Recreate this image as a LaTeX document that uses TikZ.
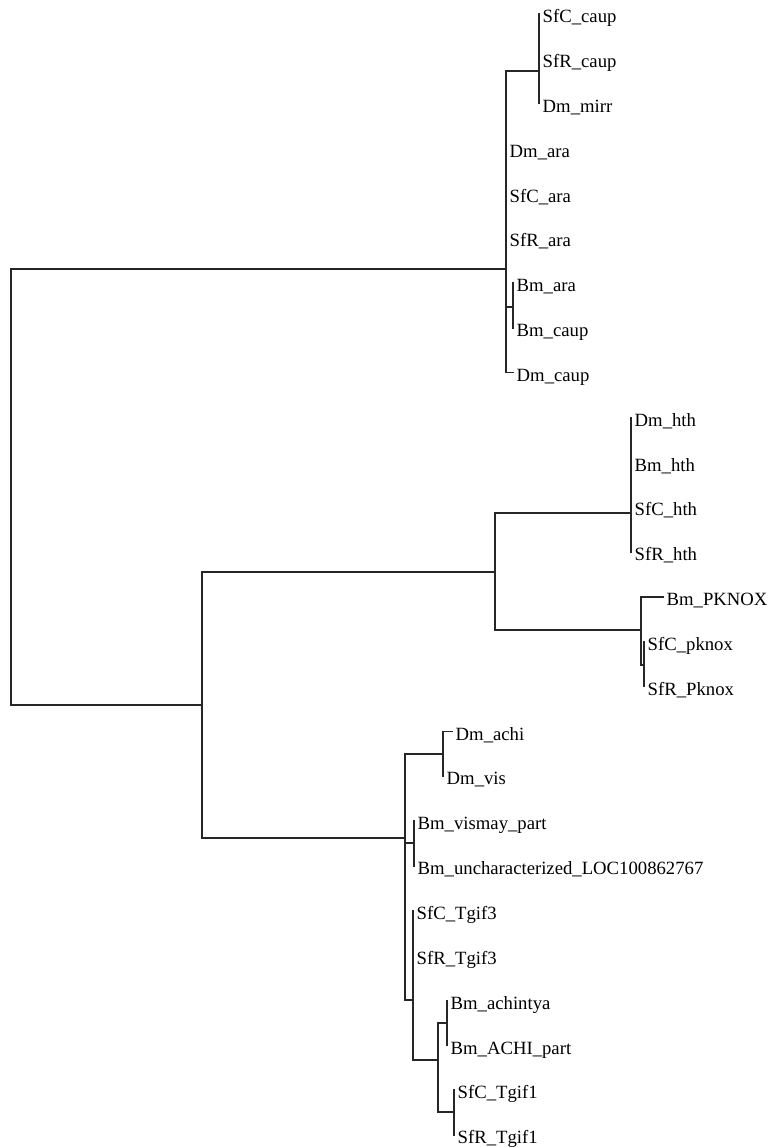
\documentclass[tikz,border=0pt]{standalone}
\usepackage{fontspec}
\setmainfont{Liberation Serif}
\begin{document}
\begin{tikzpicture}[x=1pt,y=-1pt,
  br/.style={line width=1.35pt, line cap=rect, draw=black!85},
  lab/.style={anchor=base west, inner sep=0pt, xshift=3.5pt, yshift=-8.7pt, font=\fontsize{18.7}{20}\selectfont}]
\useasboundingbox (0,0) rectangle (771,1147);
% internal nodes (attach points)
\coordinate (R) at (11,487);
\coordinate (A) at (506,269);
\coordinate (Ncaup) at (539,71);
\coordinate (Nbm) at (513,307);
\coordinate (B) at (202,705);
\coordinate (C) at (495,572);
\coordinate (Nhth) at (631,513);
\coordinate (Npk) at (641,630);
\coordinate (Npk2) at (644,665);
\coordinate (D) at (405,838);
\coordinate (Nachi) at (443,754);
\coordinate (Nvis) at (414,843);
\coordinate (E) at (413,1000);
\coordinate (F) at (438,1060);
\coordinate (Nach) at (447,1023);
\coordinate (Ntg) at (454,1112);
% leaf tips
\coordinate (l0) at (539,14);
\coordinate (l1) at (539,58.84);
\coordinate (l2) at (539,103.68);
\coordinate (l3) at (506,148.52);
\coordinate (l4) at (506,193.36);
\coordinate (l5) at (506,238.2);
\coordinate (l6) at (513,283.04);
\coordinate (l7) at (513,327.88);
\coordinate (l8) at (513,372.72);
\coordinate (l9) at (631,417.56);
\coordinate (l10) at (631,462.4);
\coordinate (l11) at (631,507.24);
\coordinate (l12) at (631,552.08);
\coordinate (l13) at (663,596.92);
\coordinate (l14) at (644,641.76);
\coordinate (l15) at (644,686.6);
\coordinate (l16) at (452,731.44);
\coordinate (l17) at (443,776.28);
\coordinate (l18) at (414,821.12);
\coordinate (l19) at (414,865.96);
\coordinate (l20) at (413,910.8);
\coordinate (l21) at (413,955.64);
\coordinate (l22) at (447,1000.48);
\coordinate (l23) at (447,1045.32);
\coordinate (l24) at (454,1090.16);
\coordinate (l25) at (454,1135);
% labels
\node[lab] (t0) at (l0) {SfC\_caup};
\node[lab] (t1) at (l1) {SfR\_caup};
\node[lab] (t2) at (l2) {Dm\_mirr};
\node[lab] (t3) at (l3) {Dm\_ara};
\node[lab] (t4) at (l4) {SfC\_ara};
\node[lab] (t5) at (l5) {SfR\_ara};
\node[lab] (t6) at (l6) {Bm\_ara};
\node[lab] (t7) at (l7) {Bm\_caup};
\node[lab] (t8) at (l8) {Dm\_caup};
\node[lab] (t9) at (l9) {Dm\_hth};
\node[lab] (t10) at (l10) {Bm\_hth};
\node[lab] (t11) at (l11) {SfC\_hth};
\node[lab] (t12) at (l12) {SfR\_hth};
\node[lab] (t13) at (l13) {Bm\_PKNOX};
\node[lab] (t14) at (l14) {SfC\_pknox};
\node[lab] (t15) at (l15) {SfR\_Pknox};
\node[lab] (t16) at (l16) {Dm\_achi};
\node[lab] (t17) at (l17) {Dm\_vis};
\node[lab] (t18) at (l18) {Bm\_vismay\_part};
\node[lab] (t19) at (l19) {Bm\_uncharacterized\_LOC100862767};
\node[lab] (t20) at (l20) {SfC\_Tgif3};
\node[lab] (t21) at (l21) {SfR\_Tgif3};
\node[lab] (t22) at (l22) {Bm\_achintya};
\node[lab] (t23) at (l23) {Bm\_ACHI\_part};
\node[lab] (t24) at (l24) {SfC\_Tgif1};
\node[lab] (t25) at (l25) {SfR\_Tgif1};
% root
\draw[br] (R|-A) -- (R|-B);
\draw[br] (R|-A) -- (A);
\draw[br] (R|-B) -- (B);
% A
\draw[br] (A|-Ncaup) -- (A|-l8);
\draw[br] (A|-Ncaup) -- (Ncaup);
\draw[br] (A|-Nbm) -- (Nbm);
\draw[br] (A|-l8) -- (l8);
\draw[br] (Ncaup|-l0) -- (Ncaup|-l2);
\draw[br] (Nbm|-l6) -- (Nbm|-l7);
% B
\draw[br] (B|-C) -- (B|-D);
\draw[br] (B|-C) -- (C);
\draw[br] (B|-D) -- (D);
% C
\draw[br] (C|-Nhth) -- (C|-Npk);
\draw[br] (C|-Nhth) -- (Nhth);
\draw[br] (C|-Npk) -- (Npk);
\draw[br] (Nhth|-l9) -- (Nhth|-l12);
\draw[br] (Npk|-l13) -- (Npk|-Npk2);
\draw[br] (Npk|-l13) -- (l13);
\draw[br] (Npk|-Npk2) -- (Npk2);
\draw[br] (Npk2|-l14) -- (Npk2|-l15);
% D
\draw[br] (D|-Nachi) -- (D|-E);
\draw[br] (D|-Nachi) -- (Nachi);
\draw[br] (D|-Nvis) -- (Nvis);
\draw[br] (D|-E) -- (E);
\draw[br] (Nachi|-l16) -- (Nachi|-l17);
\draw[br] (Nachi|-l16) -- (l16);
\draw[br] (Nvis|-l18) -- (Nvis|-l19);
% E
\draw[br] (E|-l20) -- (E|-F);
\draw[br] (E|-F) -- (F);
\draw[br] (F|-Nach) -- (F|-Ntg);
\draw[br] (F|-Nach) -- (Nach);
\draw[br] (F|-Ntg) -- (Ntg);
\draw[br] (Nach|-l22) -- (Nach|-l23);
\draw[br] (Ntg|-l24) -- (Ntg|-l25);
\end{tikzpicture}
\end{document}
